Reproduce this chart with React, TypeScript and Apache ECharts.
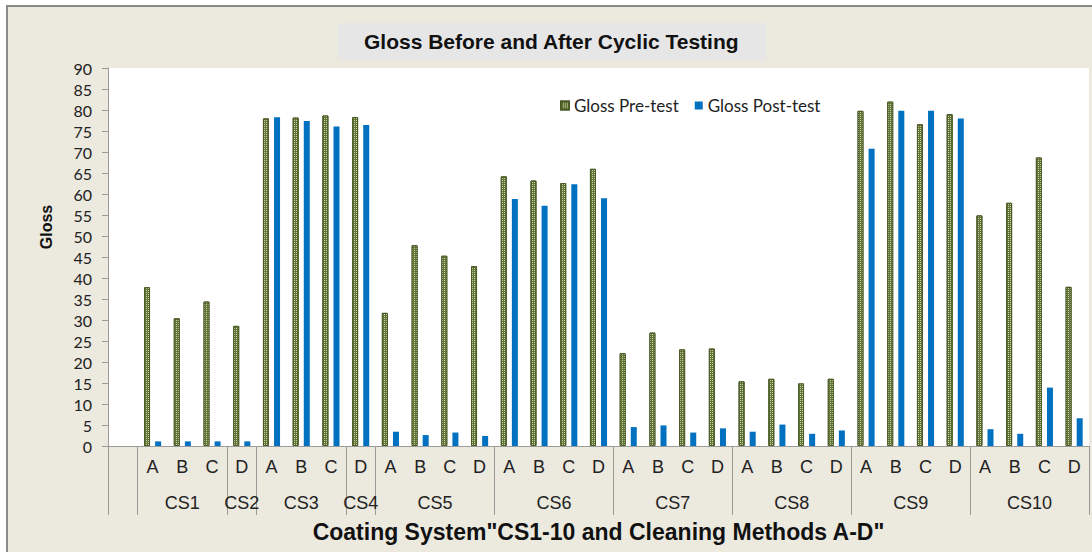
import React, { useEffect, useRef } from "react";
import * as echarts from "echarts";

const groupNames = ["", "CS1", "CS2", "CS3", "CS4", "CS5", "CS6", "CS7", "CS8", "CS9", "CS10"];
const groupMethods = [[""], ["A", "B", "C"], ["D"], ["A", "B", "C"], ["D"], ["A", "B", "C", "D"], ["A", "B", "C", "D"], ["A", "B", "C", "D"], ["A", "B", "C", "D"], ["A", "B", "C", "D"], ["A", "B", "C", "D"]];

const preTest = [null, 37.8, 30.4, 34.4, 28.6, 78.0, 78.2, 78.7, 78.3, 31.7, 47.8, 45.3, 42.8, 64.2, 63.2, 62.6, 66.0, 22.1, 27.0, 23.0, 23.2, 15.4, 16.0, 14.9, 16.0, 79.8, 82.0, 76.6, 79.0, 54.9, 57.9, 68.7, 37.9];
const postTest = [null, 1.1, 1.1, 1.1, 1.1, 78.3, 77.4, 76.1, 76.4, 3.4, 2.6, 3.2, 2.4, 58.8, 57.2, 62.3, 59.0, 4.5, 4.9, 3.2, 4.2, 3.4, 5.1, 2.9, 3.7, 70.8, 79.8, 79.8, 78.0, 4.0, 2.9, 13.9, 6.6];

const categories: string[] = [];
const groupStarts: number[] = [];
const groupCenters: Record<string, string> = {};
groupMethods.forEach((m, gi) => {
  const start = categories.length;
  groupStarts.push(start);
  m.forEach((x) => categories.push(x));
  groupCenters[String(start + m.length / 2)] = groupNames[gi];
});
groupStarts.push(categories.length);

export default function App() {
  const ref = useRef<HTMLDivElement>(null);
  useEffect(() => {
    document.body.style.margin = "0";
    const chart = echarts.init(ref.current!, undefined, { renderer: "svg" });
    const axisGray = "#9a9a9a";
    const greenStyle = {
      color: "#64753A",
      borderColor: "#4B5A26",
      borderWidth: 1,
      decal: {
        symbol: "rect",
        symbolSize: 1,
        dashArrayX: [1, 1],
        dashArrayY: [1, 1],
        color: "#C8D4A6",
      },
    };
    chart.setOption({
      animation: false,
      backgroundColor: "#ffffff",
      graphic: [
        {
          type: "rect",
          z: -10,
          shape: { x: 7, y: 6, width: 1200, height: 700 },
          style: { fill: "#ECE9DF", stroke: "#8a8a8a", lineWidth: 2 },
        },
        {
          type: "text",
          x: 46,
          y: 227,
          rotation: Math.PI / 2,
          style: {
            text: "Gloss",
            align: "center",
            verticalAlign: "middle",
            fontFamily: "Liberation Sans",
            fontWeight: "bold",
            fontSize: 16,
            fill: "#111",
          },
        },
      ],
      title: {
        text: "Gloss Before and After Cyclic Testing",
        left: 338,
        top: 23,
        padding: [8, 27, 8, 26],
        backgroundColor: "#E6E6E6",
        textStyle: { fontFamily: "Liberation Sans", fontWeight: "bold", fontSize: 21, color: "#111" },
      },
      legend: {
        left: 555,
        top: 92,
        itemWidth: 8,
        itemHeight: 8,
        itemGap: 16,
        icon: "rect",
        textStyle: { fontFamily: "Lato", fontSize: 17, color: "#222" },
        data: ["Gloss Pre-test", "Gloss Post-test"],
      },
      grid: {
        left: 108,
        top: 68,
        width: 984,
        height: 378,
        show: true,
        backgroundColor: "#ffffff",
        borderWidth: 0,
      },
      xAxis: [
        {
          type: "category",
          data: categories,
          axisLine: { show: true, lineStyle: { color: axisGray, width: 1 } },
          axisTick: {
            show: true,
            length: 69,
            interval: (i: number) => groupStarts.indexOf(i) >= 0,
            lineStyle: { color: axisGray, width: 1 },
          },
          axisLabel: { interval: 0, margin: 12, fontFamily: "Liberation Sans", fontSize: 18, color: "#222" },
        },
        {
          type: "value",
          min: 0,
          max: categories.length,
          interval: 0.5,
          position: "bottom",
          axisLine: { show: false },
          axisTick: { show: false },
          splitLine: { show: false },
          axisLabel: {
            margin: 48,
            fontFamily: "Liberation Sans",
            fontSize: 18,
            color: "#222",
            formatter: (v: number) => groupCenters[String(v)] || "",
          },
          name: 'Coating System"CS1-10 and Cleaning Methods A-D"',
          nameLocation: "middle",
          nameGap: 74,
          nameTextStyle: { fontFamily: "Liberation Sans", fontWeight: "bold", fontSize: 23, color: "#111" },
        },
      ],
      yAxis: {
        type: "value",
        min: 0,
        max: 90,
        interval: 5,
        axisLine: { show: true, lineStyle: { color: axisGray } },
        axisTick: { show: true, length: 6, lineStyle: { color: axisGray } },
        splitLine: { show: false },
        axisLabel: { margin: 16, fontFamily: "Lato", fontSize: 16, color: "#222" },
      },
      series: [
        {
          name: "Gloss Pre-test",
          type: "bar",
          xAxisIndex: 0,
          data: preTest,
          barWidth: 6,
          barGap: "85%",
          itemStyle: greenStyle,
        },
        {
          name: "Gloss Post-test",
          type: "bar",
          xAxisIndex: 0,
          data: postTest,
          barWidth: 6,
          barGap: "85%",
          itemStyle: { color: "#0070C0" },
        },
      ],
    });
    return () => chart.dispose();
  }, []);
  return <div ref={ref} style={{ position: "fixed", left: 0, top: 0, width: 1092, height: 552 }} />;
}
